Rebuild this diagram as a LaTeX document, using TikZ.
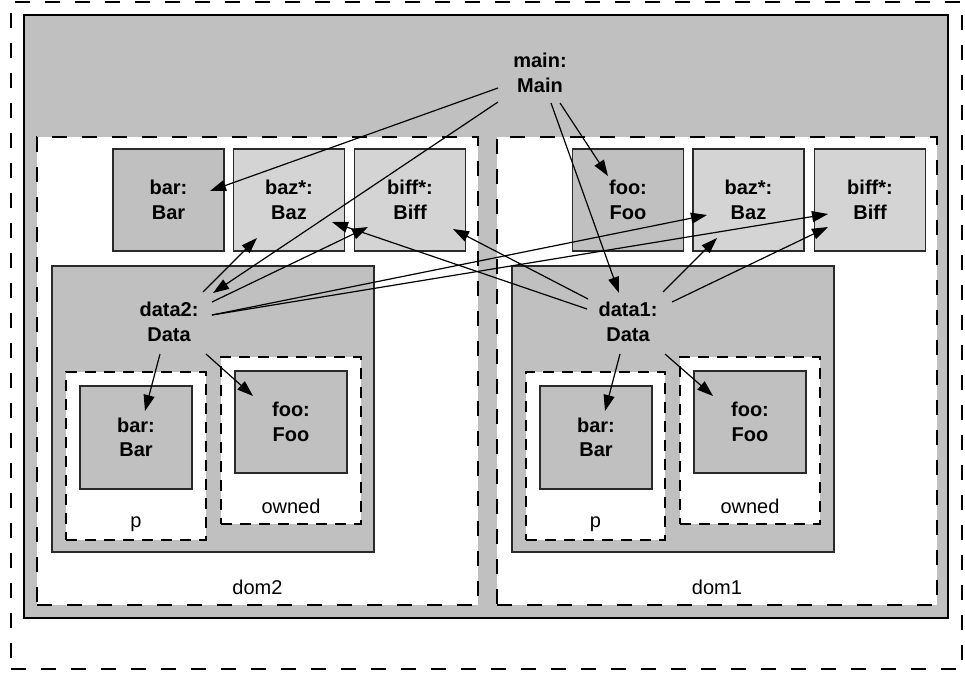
\documentclass[tikz,border=0pt]{standalone}
\usepackage{fontspec}
\setmainfont{Liberation Sans}
\usetikzlibrary{arrows.meta}
\definecolor{regiongray}{HTML}{C0C0C0}
\definecolor{sharedgray}{HTML}{D4D4D4}
\definecolor{edgegray}{HTML}{2A2A2A}

\tikzset{
  boxsize/.style 2 args={minimum width=#1, minimum height=#2},
  outerregion/.style={draw=black, line width=1.6pt, dash pattern=on 15pt off 15pt, inner sep=0pt},
  grayregion/.style={draw=black, line width=1.4pt, fill=regiongray, inner sep=0pt},
  domregion/.style={draw=black, fill=white, line width=1.8pt, dash pattern=on 15pt off 15pt, inner sep=0pt},
  ownerbox/.style={draw=edgegray, fill=regiongray, line width=1.1pt, inner sep=0pt},
  subdomain/.style={draw=black, fill=white, line width=1.6pt, dash pattern=on 11pt off 8pt, inner sep=0pt},
  objbox/.style={draw=edgegray, fill=regiongray, line width=1.1pt, inner sep=0pt,
    minimum width=111pt, minimum height=102pt, align=center,
    font=\fontsize{20}{24.5}\selectfont\bfseries,
    execute at begin node={\rule{0pt}{27pt}}},
  sharedbox/.style={objbox, fill=sharedgray},
  objlbl/.style={font=\fontsize{20}{24.5}\selectfont\bfseries, align=center, inner sep=0pt},
  domlbl/.style={font=\fontsize{20}{24}\selectfont, inner sep=0pt},
  ref/.style={-{Triangle[length=16pt,width=11pt]}, line width=1.2pt, black}
}

\begin{document}
\begin{tikzpicture}[x=1pt,y=-1pt]
\useasboundingbox (0,0) rectangle (965,677);

% nested regions
\node[outerregion, boxsize={951pt}{667pt}] (world) at (486.5,335.5) {};
\node[grayregion, boxsize={924pt}{603pt}] (root) at (486,316.5) {};
\node[domregion, boxsize={441pt}{468pt}] (dom2) at (257.5,371) {};
\node[domregion, boxsize={440pt}{468pt}] (dom1) at (717,371) {};
\node[domlbl] (dom2lbl) at ([yshift=18.5pt]dom2.south) {dom2};
\node[domlbl] (dom1lbl) at ([yshift=18.5pt]dom1.south) {dom1};

% owner objects with their private domains
\node[ownerbox, boxsize={322pt}{286pt}] (data2box) at (213,409) {};
\node[ownerbox, boxsize={322pt}{286pt}] (data1box) at (673,409) {};

\node[subdomain, boxsize={140pt}{168pt}] (pA) at (136,456) {};
\node[subdomain, boxsize={140pt}{167pt}] (ownedA) at (291,440.5) {};
\node[subdomain, boxsize={139pt}{168pt}] (pB) at (595.5,456) {};
\node[subdomain, boxsize={140pt}{167pt}] (ownedB) at (750,440.5) {};
\node[domlbl] (pAlbl) at ([yshift=17pt]pA.south) {p};
\node[domlbl] (ownedAlbl) at ([yshift=18pt]ownedA.south) {owned};
\node[domlbl] (pBlbl) at ([yshift=17pt]pB.south) {p};
\node[domlbl] (ownedBlbl) at ([yshift=18pt]ownedB.south) {owned};

% labels of the owners
\node[objlbl] (mainobj) at (540,73) {main:\\Main};
\node[objlbl] (data2obj) at (169,322) {data2:\\Data};
\node[objlbl] (data1obj) at (628,322) {data1:\\Data};

% objects in dom2
\node[objbox] (barA) at (168.5,200) {bar:\\Bar};
\node[sharedbox] (bazA) at (289,200) {baz*:\\Baz};
\node[sharedbox] (biffA) at (410,200) {biff*:\\Biff};
% objects in dom1
\node[objbox] (fooB) at (628,200) {foo:\\Foo};
\node[sharedbox] (bazB) at (748.5,200) {baz*:\\Baz};
\node[sharedbox] (biffB) at (870,200) {biff*:\\Biff};
% objects inside the owners
\node[objbox, minimum width=112pt, minimum height=103pt] (barA2) at (136,437.5) {bar:\\Bar};
\node[objbox, minimum width=112pt] (fooA2) at (291,422) {foo:\\Foo};
\node[objbox, minimum width=112pt, minimum height=103pt] (barB2) at (596,437.5) {bar:\\Bar};
\node[objbox, minimum width=112pt] (fooB2) at (750,422) {foo:\\Foo};

% reference end points
\coordinate (mA1) at (498,88);   \coordinate (tbarA) at (210,191);
\coordinate (mA2) at (498,102);  \coordinate (tdata2) at (213,293);
\coordinate (mB1) at (551,103);  \coordinate (tdata1) at (619,293);
\coordinate (mB2) at (560,103);  \coordinate (tfooB) at (608,176);

\coordinate (d2s1) at (203,292); \coordinate (tbazA2) at (257,238);
\coordinate (d2s2) at (212,302); \coordinate (tbiffA2) at (368,227);
\coordinate (d2s3) at (212,315); \coordinate (tbazB2) at (707,215);
                                 \coordinate (tbiffB2) at (828,214);
\coordinate (d2s4) at (160,354); \coordinate (tbarA2) at (145,411);
\coordinate (d2s5) at (206,354); \coordinate (tfooA2) at (253,396);

\coordinate (d1s1) at (663,292); \coordinate (tbazB1) at (717,238);
\coordinate (d1s2) at (672,302); \coordinate (tbiffB1) at (828,227);
\coordinate (d1s3) at (588,299); \coordinate (tbiffA1) at (453,229);
\coordinate (d1s4) at (587,309); \coordinate (tbazA1) at (332,222);
\coordinate (d1s5) at (620,354); \coordinate (tbarB2) at (605,411);
\coordinate (d1s6) at (665,354); \coordinate (tfooB2) at (713,396);

% references of main
\draw[ref] (mA1) -- (tbarA);
\draw[ref] (mA2) -- (tdata2);
\draw[ref] (mB1) -- (tdata1);
\draw[ref] (mB2) -- (tfooB);
% references of data2
\draw[ref] (d2s1) -- (tbazA2);
\draw[ref] (d2s2) -- (tbiffA2);
\draw[ref] (d2s3) -- (tbazB2);
\draw[ref] (d2s3) -- (tbiffB2);
\draw[ref] (d2s4) -- (tbarA2);
\draw[ref] (d2s5) -- (tfooA2);
% references of data1
\draw[ref] (d1s1) -- (tbazB1);
\draw[ref] (d1s2) -- (tbiffB1);
\draw[ref] (d1s3) -- (tbiffA1);
\draw[ref] (d1s4) -- (tbazA1);
\draw[ref] (d1s5) -- (tbarB2);
\draw[ref] (d1s6) -- (tfooB2);
\end{tikzpicture}
\end{document}
